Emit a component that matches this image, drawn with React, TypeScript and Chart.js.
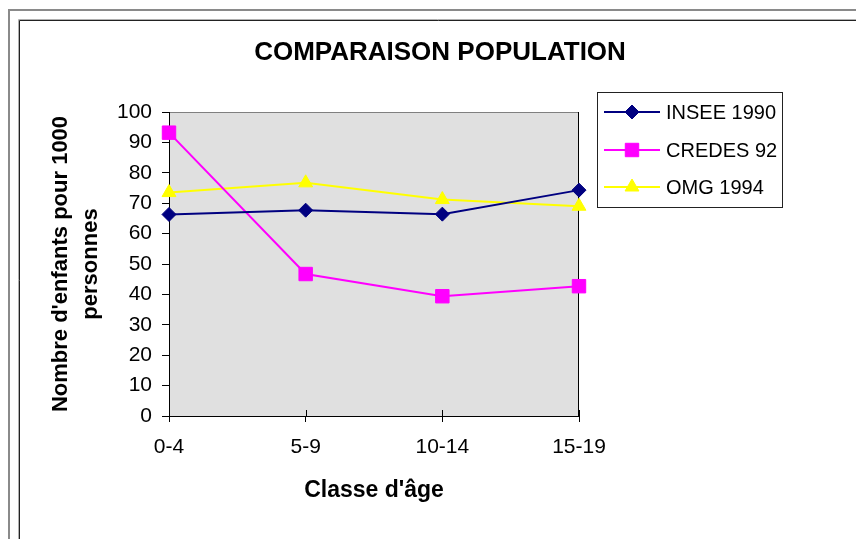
import React, { useEffect, useRef } from "react";
import { Chart, registerables } from "chart.js";
import * as helpers from "chart.js/helpers";

Chart.register(...registerables);

const categories = ["0-4", "5-9", "10-14", "15-19"];
const insee1990 = [66.3, 67.7, 66.4, 74.3];
const credes92 = [93.2, 46.7, 39.4, 42.7];
const omg1994 = [73.5, 76.7, 71.2, 69.0];
const seriesLabels = ["INSEE 1990", "CREDES 92", "OMG 1994"];
const seriesColors = ["#000080", "#FF00FF", "#FFFF00"];
const seriesMarkers = ["rectRot", "rect", "triangle"];
const markerRadius = [7, 9.5, 8];
const yMin = 0;
const yMax = 100;
const yStep = 10;
const chartTitle = "COMPARAISON POPULATION";
const xTitle = "Classe d'âge";
const yTitle = ["Nombre d'enfants pour 1000", "personnes"];

const FONT = "'Liberation Sans', Arial, Helvetica, sans-serif";

const framePlugin = {
  id: "frame",
  beforeDraw(chart: any) {
    const { ctx, chartArea, width, height } = chart;
    ctx.save();
    ctx.fillStyle = "#ffffff";
    ctx.fillRect(0, 0, width, height);
    // outer frame (gray)
    ctx.strokeStyle = "#8a8a8a";
    ctx.lineWidth = 2;
    ctx.beginPath();
    ctx.moveTo(9, height + 5);
    ctx.lineTo(9, 10);
    ctx.lineTo(width + 5, 10);
    ctx.stroke();
    // inner frame
    ctx.lineWidth = 1;
    ctx.strokeStyle = "#b0b0b0";
    ctx.beginPath();
    ctx.moveTo(18.5, height + 5);
    ctx.lineTo(18.5, 19.5);
    ctx.lineTo(width + 5, 19.5);
    ctx.stroke();
    ctx.strokeStyle = "#222222";
    ctx.beginPath();
    ctx.moveTo(19.5, height + 5);
    ctx.lineTo(19.5, 20.5);
    ctx.lineTo(width + 5, 20.5);
    ctx.stroke();
    // plot area
    const { left, top, right, bottom } = chartArea;
    ctx.fillStyle = "#e0e0e0";
    ctx.fillRect(left, top, right - left, bottom - top);
    ctx.strokeStyle = "#808080";
    ctx.lineWidth = 1;
    ctx.beginPath();
    ctx.moveTo(left, top + 0.5);
    ctx.lineTo(right, top + 0.5);
    ctx.stroke();
    ctx.strokeStyle = "#000000";
    ctx.beginPath();
    ctx.moveTo(right - 0.5, top);
    ctx.lineTo(right - 0.5, bottom);
    ctx.stroke();
    ctx.restore();
  },
  beforeDatasetsDraw(chart: any) {
    const { ctx, chartArea } = chart;
    const xs = chart.scales.x;
    ctx.save();
    ctx.strokeStyle = "#000000";
    ctx.lineWidth = 1;
    for (let i = 0; i < xs.ticks.length; i++) {
      const px = Math.round(xs.getPixelForTick(i)) + 0.5;
      ctx.beginPath();
      ctx.moveTo(px, chartArea.bottom - 6);
      ctx.lineTo(px, chartArea.bottom);
      ctx.stroke();
    }
    ctx.restore();
  },
  afterDraw(chart: any) {
    const { ctx } = chart;
    ctx.save();
    // title
    ctx.fillStyle = "#000";
    ctx.font = `bold 26px ${FONT}`;
    ctx.textAlign = "center";
    ctx.textBaseline = "middle";
    ctx.fillText(chartTitle, 440, 53);
    // legend
    const bx = 597.5, by = 92.5, bw = 185, bh = 115;
    ctx.fillStyle = "#ffffff";
    ctx.fillRect(bx, by, bw, bh);
    ctx.strokeStyle = "#222";
    ctx.lineWidth = 1;
    ctx.strokeRect(bx, by, bw, bh);
    const rows = [112, 150, 187];
    chart.data.datasets.forEach((ds: any, i: number) => {
      const y = rows[i];
      ctx.strokeStyle = ds.borderColor;
      ctx.lineWidth = 2;
      ctx.beginPath();
      ctx.moveTo(604, y);
      ctx.lineTo(660, y);
      ctx.stroke();
      ctx.fillStyle = ds.backgroundColor;
      ctx.strokeStyle = ds.borderColor;
      ctx.lineWidth = 1;
      helpers.drawPoint(ctx, { pointStyle: ds.pointStyle, radius: ds.pointRadius, rotation: 0, borderWidth: 1 } as any, 632, y);
      ctx.fillStyle = "#000";
      ctx.font = `20px ${FONT}`;
      ctx.textAlign = "left";
      ctx.textBaseline = "middle";
      ctx.fillText(ds.label, 666, y + 1);
    });
    ctx.restore();
  },
};

export default function App() {
  const ref = useRef<HTMLCanvasElement>(null);
  useEffect(() => {
    const canvas = ref.current!;
    const datas = [insee1990, credes92, omg1994];
    const chart = new Chart(canvas, {
      type: "line",
      data: {
        labels: categories,
        datasets: datas.map((d, i) => ({
          label: seriesLabels[i],
          data: d,
          borderColor: seriesColors[i],
          backgroundColor: seriesColors[i],
          borderWidth: 2,
          pointStyle: seriesMarkers[i],
          pointRadius: markerRadius[i],
          pointBorderWidth: 1,
          pointBorderColor: seriesColors[i],
          pointBackgroundColor: seriesColors[i],
          tension: 0,
          clip: false,
          fill: false,
        })) as any,
      },
      options: {
        responsive: false,
        animation: false,
        devicePixelRatio: 1,
        layout: { padding: { left: 0, right: 277, top: 112, bottom: 0 } },
        plugins: {
          legend: { display: false },
          title: { display: false },
          tooltip: { enabled: false },
        },
        scales: {
          x: {
            type: "category",
            offset: false,
            grid: { display: true, drawOnChartArea: false, tickLength: 6, color: "#000", lineWidth: 1 },
            border: { display: true, color: "#000", width: 1 },
            ticks: { padding: 13, color: "#000", font: { family: FONT, size: 21 }, maxRotation: 0, autoSkip: false },
            title: {
              display: true,
              text: xTitle,
              color: "#000",
              font: { family: FONT, size: 23, weight: "bold" },
              padding: { top: 0, bottom: 35 },
            },
            afterFit: (s: any) => {
              s.height = 123;
            },
          },
          y: {
            min: yMin,
            max: yMax,
            grid: { display: true, drawOnChartArea: false, tickLength: 7, color: "#000", lineWidth: 1 },
            border: { display: true, color: "#000", width: 1 },
            ticks: { stepSize: yStep, padding: 10, color: "#000", font: { family: FONT, size: 21 } },
            title: {
              display: true,
              text: yTitle,
              color: "#000",
              font: { family: FONT, size: 22, weight: "bold", lineHeight: 1.36 },
              padding: { top: 46, bottom: 0 },
            },
            afterFit: (s: any) => {
              s.width = 169;
            },
          },
        },
      } as any,
      plugins: [framePlugin],
    });
    return () => chart.destroy();
  }, []);
  return (
    <div style={{ position: "absolute", left: 0, top: 0, width: 856, height: 539, background: "#fff" }}>
      <canvas ref={ref} width={856} height={539} style={{ display: "block" }} />
    </div>
  );
}
